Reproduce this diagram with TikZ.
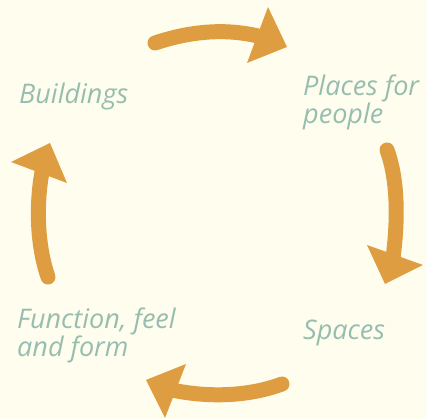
\documentclass[tikz,border=0pt]{standalone}
\usepackage{fontspec}
\setmainfont{Open Sans}
\definecolor{bgcol}{RGB}{255,253,238}
\definecolor{arrowcol}{RGB}{221,157,64}
\definecolor{textcol}{RGB}{150,190,176}
\begin{document}
\begin{tikzpicture}[x=1pt,y=-1pt,
  shaft/.style={draw=arrowcol,line width=15pt,line cap=round},
  head/.style={fill=arrowcol},
  lbl/.style={anchor=base west,inner sep=0pt,text=textcol,font=\fontsize{27}{28.5}\selectfont\itshape,align=left}]
\fill[bgcol] (0,0) rectangle (426,419);
\useasboundingbox (0,0) rectangle (426,419);
% top arrow
\draw[shaft] (155,43) .. controls (200,28) and (235,30) .. (262,37);
\fill[head] (287,47) -- (268,7) -- (247,63) -- cycle;
% right arrow
\draw[shaft] (387,150) .. controls (398,180) and (398,220) .. (393,258);
\fill[head] (385,284) -- (367,245) -- (423,265) -- cycle;
% bottom arrow
\draw[shaft] (282,384) .. controls (250,396) and (210,398) .. (172,390);
\fill[head] (146,380) -- (186,364) -- (165,418) -- cycle;
% left arrow
\draw[shaft] (48,277) .. controls (37,245) and (36,205) .. (42,172);
\fill[head] (50,143) -- (11,162) -- (67,183) -- cycle;
% labels (base anchor = last line's baseline)
\node[lbl] (buildings) at (19,104) {Buildings};
\node[lbl] (places) at (303,124) {Places for\\people};
\node[lbl] (spaces) at (303,340) {Spaces};
\node[lbl] (function) at (17,357) {Function, feel\\and form};
\end{tikzpicture}
\end{document}
